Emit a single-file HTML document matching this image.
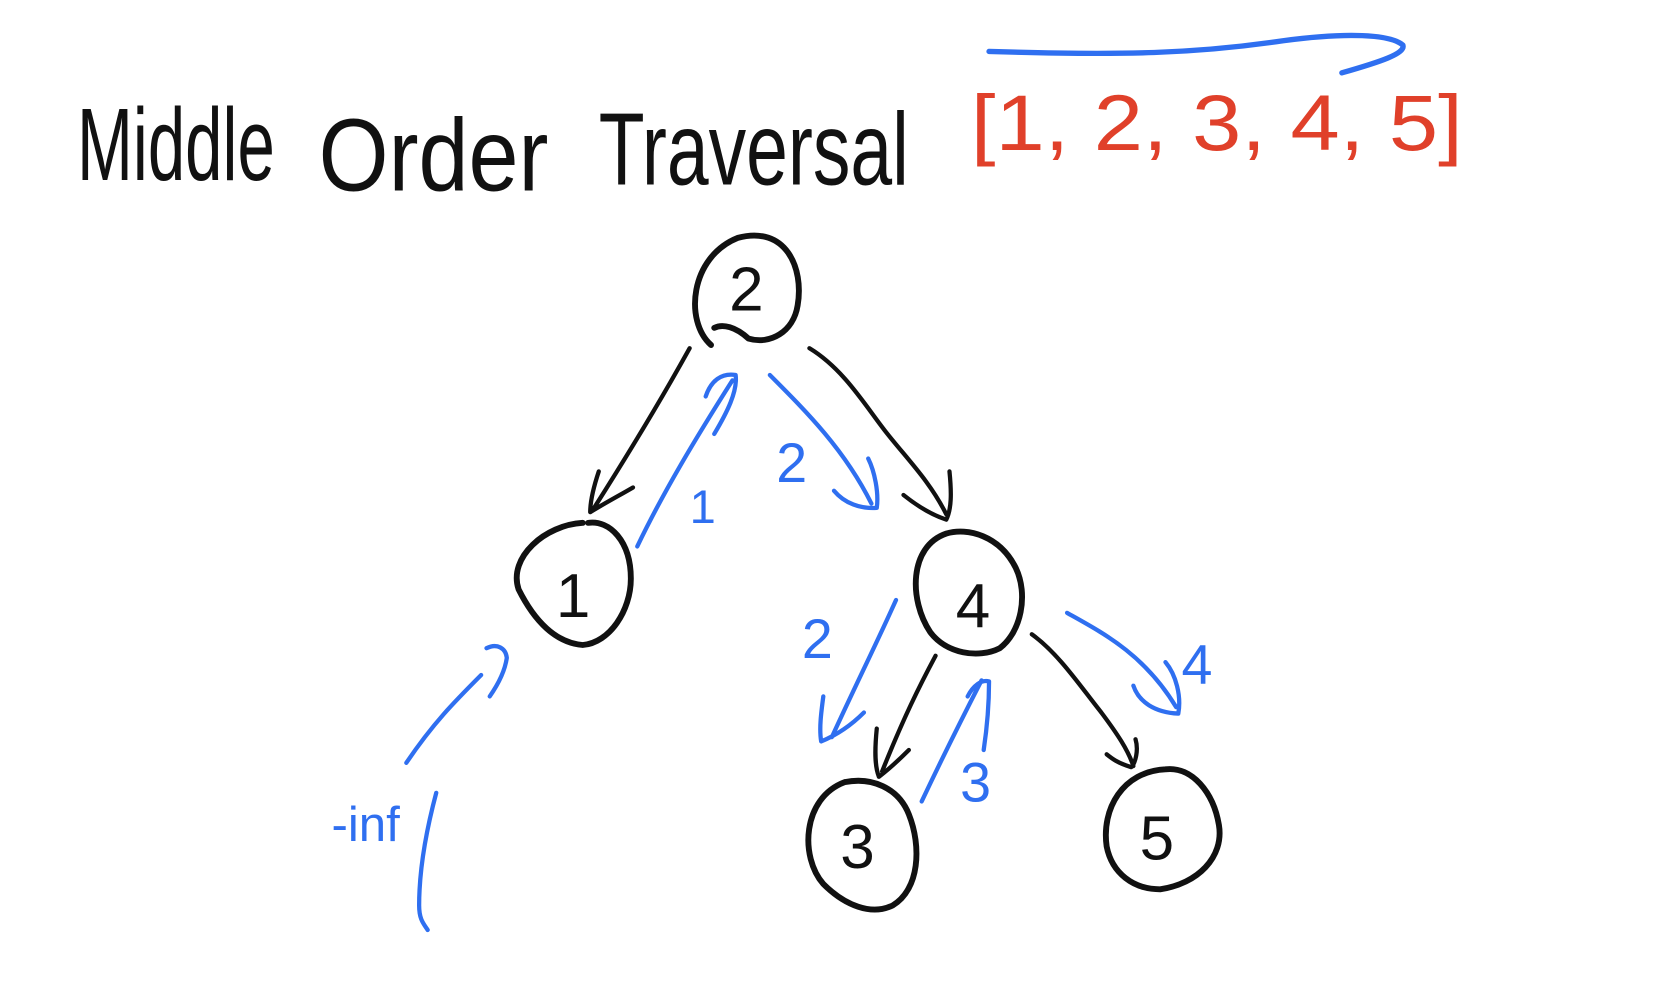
<!DOCTYPE html>
<html><head><style>html,body{margin:0;padding:0;background:#fff;overflow:hidden}svg{display:block}</style></head>
<body>
<svg width="1668" height="1005" viewBox="0 0 1560 938" preserveAspectRatio="none" xmlns="http://www.w3.org/2000/svg">
<g fill="none" stroke-linecap="round" stroke-linejoin="round">
<text x="72" y="168" font-family="Liberation Sans, sans-serif" font-size="96" fill="#111" stroke="none" textLength="185" lengthAdjust="spacingAndGlyphs">Middle</text>
<text x="298" y="178" font-family="Liberation Sans, sans-serif" font-size="96" fill="#111" stroke="none" textLength="215" lengthAdjust="spacingAndGlyphs">Order</text>
<text x="560" y="172" font-family="Liberation Sans, sans-serif" font-size="96" fill="#111" stroke="none" textLength="290" lengthAdjust="spacingAndGlyphs">Traversal</text>
<text x="908" y="140" font-family="Liberation Sans, sans-serif" font-size="74" fill="#e0402a" stroke="none" textLength="460" lengthAdjust="spacingAndGlyphs">[1, 2, 3, 4, 5]</text>
<path d="M925 48 C1050 52 1120 50 1200 38 C1260 30 1300 32 1312 42 C1315 50 1290 58 1255 68" stroke="#2f6ff0" stroke-width="5"/>
<g stroke="#111" stroke-width="5.5">
<path d="M665 322 C640 300 645 240 690 222 C735 210 752 250 746 285 C742 310 720 322 700 316 C688 305 676 302 668 306"/>
<path d="M545 488 C510 490 475 520 485 550 C500 580 520 600 545 602 C570 600 590 570 590 540 C590 505 570 485 550 488"/>
<path d="M885 498 C850 510 850 560 870 590 C885 610 915 615 935 605 C955 590 962 555 950 530 C935 500 905 492 885 498"/>
<path d="M790 730 C750 745 748 800 770 825 C790 845 815 855 835 845 C860 830 862 790 850 760 C840 735 815 725 790 730"/>
<path d="M1090 718 C1050 720 1030 755 1035 790 C1040 815 1060 830 1085 830 C1120 825 1145 800 1140 770 C1135 740 1115 715 1090 718"/>
</g>
<g font-family="Liberation Sans, sans-serif" font-size="58" fill="#111" stroke="none" text-anchor="middle">
<text x="698" y="290">2</text><text x="536" y="576">1</text><text x="910" y="585">4</text><text x="802" y="810">3</text><text x="1082" y="802">5</text>
</g>
<g stroke="#111" stroke-width="4">
<path d="M645 325 C620 370 590 420 555 475 M560 440 C555 455 552 468 552 478 C565 470 580 462 592 455"/>
<path d="M757 325 C790 345 810 380 830 405 C850 430 870 450 885 480 M888 440 C890 460 890 475 885 485 C870 480 855 470 845 462"/>
<path d="M875 612 C860 640 845 670 825 720 M820 680 C818 700 818 715 822 725 C835 715 845 705 850 700"/>
<path d="M965 592 C990 610 1010 640 1030 665 C1045 685 1055 700 1060 715 M1062 690 C1065 700 1062 712 1058 716 C1045 712 1040 708 1035 704"/>
</g>
<g stroke="#2f6ff0" stroke-width="4">
<path d="M596 510 C620 460 650 410 685 355 M660 370 C665 355 675 348 688 350 C690 365 680 385 668 405"/>
<path d="M720 350 C755 385 790 420 815 470 M780 458 C790 470 805 475 820 474 C822 460 818 440 812 428"/>
<path d="M838 560 C820 600 800 640 778 688 M770 650 C768 665 766 680 768 692 C785 685 798 675 808 665"/>
<path d="M862 748 C880 710 900 670 918 635 M905 650 C910 640 918 634 925 636 C925 655 923 680 920 700"/>
<path d="M998 572 C1030 590 1070 610 1100 660 M1060 640 C1065 655 1080 665 1102 666 C1105 650 1100 630 1090 618"/>
<path d="M380 712 C405 675 425 655 450 630 M455 605 C465 600 473 605 474 614 C472 628 465 640 458 650"/>
<path d="M408 740 C400 770 392 810 392 845 C392 858 396 862 400 868"/>
</g>
<g font-family="Liberation Sans, sans-serif" fill="#2f6ff0" stroke="none" font-size="52">
<text x="645" y="488" font-size="44">1</text>
<text x="726" y="450">2</text>
<text x="750" y="614">2</text>
<text x="898" y="748">3</text>
<text x="1105" y="638">4</text>
<text x="310" y="785" font-size="46">-inf</text>
</g>
</g>
</svg>
</body></html>
